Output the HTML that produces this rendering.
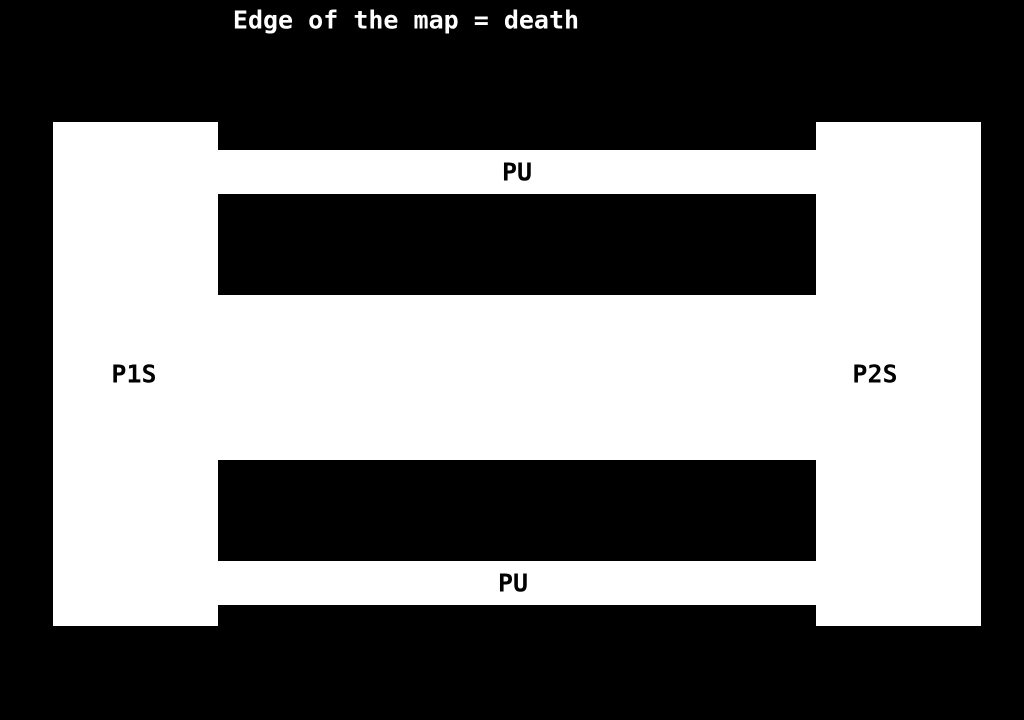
<!DOCTYPE html>
<html>
<head>
<meta charset="utf-8">
<style>
html,body{margin:0;padding:0;background:#000;}
#map{position:relative;width:1024px;height:720px;background:#000;overflow:hidden;font-family:"DejaVu Sans Mono","Liberation Mono",monospace;font-weight:bold;}
.r{position:absolute;background:#fff;}
.t{position:absolute;font-size:25px;line-height:25px;white-space:nowrap;transform:translate(-50%,-50%);color:#000;}
</style>
</head>
<body>
<div id="map">
  <div class="t" style="left:406px;top:20px;color:#fff;">Edge of the map = death</div>
  <div class="r" style="left:53px;top:122px;width:165px;height:504px;"></div>
  <div class="r" style="left:816px;top:122px;width:165px;height:504px;"></div>
  <div class="r" style="left:218px;top:150px;width:598px;height:44px;"></div>
  <div class="r" style="left:218px;top:295px;width:598px;height:165px;"></div>
  <div class="r" style="left:218px;top:561px;width:598px;height:44px;"></div>
  <div class="t" style="left:517px;top:172px;">PU</div>
  <div class="t" style="left:513px;top:583px;">PU</div>
  <div class="t" style="left:134px;top:374px;">P1S</div>
  <div class="t" style="left:875px;top:374px;">P2S</div>
</div>
</body>
</html>
